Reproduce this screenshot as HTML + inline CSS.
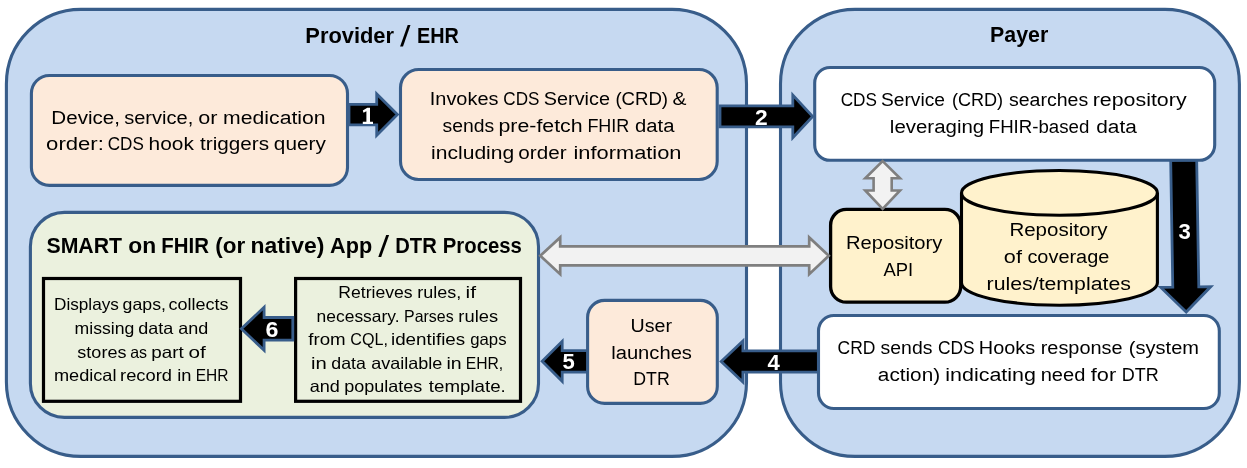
<!DOCTYPE html>
<html><head><meta charset="utf-8"><title>CRD / DTR flow</title>
<style>
html,body{margin:0;padding:0;background:#fff;}
body{width:1247px;height:468px;overflow:hidden;}
svg{display:block;will-change:transform;font-family:"Liberation Sans",sans-serif;}
</style></head><body>
<svg width="1247" height="468" viewBox="0 0 1247 468">
<rect x="6.4" y="9.4" width="740.1" height="447.0" rx="74.5" ry="74.5" fill="#C6D9F1" stroke="#385D8A" stroke-width="3.1"/>
<rect x="780.5" y="9.4" width="458.9" height="447.0" rx="74.5" ry="74.5" fill="#C6D9F1" stroke="#385D8A" stroke-width="3.1"/>
<polygon points="720,105.9 792.8,105.9 792.8,95.10000000000001 812.6,116.4 792.8,137.70000000000002 792.8,126.9 720,126.9" fill="#000" stroke="#385D8A" stroke-width="2.8" stroke-linejoin="miter" />
<polygon points="819.5,350.8 742.9,350.8 742.9,341.0 721.2,361.5 742.9,382.0 742.9,372.2 819.5,372.2" fill="#000" stroke="#385D8A" stroke-width="2.8" stroke-linejoin="miter" />
<g transform="rotate(-0.95 1186.2 312)">
<polygon points="1173.2,160 1199.2,160 1199.2,287 1211.2,287 1186.2,312 1161.2,287 1173.2,287" fill="#000" stroke="#385D8A" stroke-width="2.8" stroke-linejoin="miter" />
</g>
<rect x="31.4" y="75.5" width="316.1" height="109.9" rx="18" ry="18" fill="#FDEADA" stroke="#385D8A" stroke-width="3.1"/>
<rect x="400.5" y="69.5" width="316.7" height="110.0" rx="18.2" ry="18.2" fill="#FDEADA" stroke="#385D8A" stroke-width="3.1"/>
<polygon points="349,104.35 376.7,104.35 376.7,93.89999999999999 397.4,114.6 376.7,135.29999999999998 376.7,124.85 349,124.85" fill="#000" stroke="#385D8A" stroke-width="2.8" stroke-linejoin="miter" />
<rect x="814.7" y="67.5" width="400.0" height="92.8" rx="15.4" ry="15.4" fill="#fff" stroke="#385D8A" stroke-width="3.1"/>
<rect x="818.5" y="315.5" width="400.8" height="93.0" rx="15.4" ry="15.4" fill="#fff" stroke="#385D8A" stroke-width="3.1"/>
<rect x="830.6" y="209.4" width="130.1" height="92.8" rx="15.8" ry="15.8" fill="#FFF2CC" stroke="#000" stroke-width="3.3"/>
<path d="M961.5,192.9 A97.95000000000005,22.4 0 0 1 1157.4,192.9 L1157.4,282.8 A97.95000000000005,22.4 0 0 1 961.5,282.8 Z" fill="#FFF2CC" stroke="#000" stroke-width="3.1"/>
<path d="M961.5,192.9 A97.95000000000005,22.4 0 0 0 1157.4,192.9" fill="none" stroke="#000" stroke-width="3.1"/>
<polygon points="882.65,161.1 900.05,178.3 891.6999999999999,178.3 891.6999999999999,190.5 900.05,190.5 882.65,208.8 865.25,190.5 873.6,190.5 873.6,178.3 865.25,178.3" fill="#F2F2F2" stroke="#7F7F7F" stroke-width="2.6" stroke-linejoin="miter" />
<rect x="30.4" y="212.4" width="508.1" height="205.0" rx="34" ry="34" fill="#EBF1DE" stroke="#385D8A" stroke-width="3.1"/>
<rect x="43.5" y="278.5" width="197.0" height="122.8" rx="0" ry="0" fill="#EBF1DE" stroke="#000" stroke-width="3.2"/>
<rect x="295.6" y="278.5" width="224.9" height="122.8" rx="0" ry="0" fill="#EBF1DE" stroke="#000" stroke-width="3.2"/>
<polygon points="292.8,317.5 264.1,317.5 264.1,307.3 241.4,328.8 264.1,350.3 264.1,340.1 292.8,340.1" fill="#000" stroke="#385D8A" stroke-width="2.8" stroke-linejoin="miter" />
<polygon points="589,350.55 562.2,350.55 562.2,341.3 542.2,361.3 562.2,381.3 562.2,372.05 589,372.05" fill="#000" stroke="#385D8A" stroke-width="2.8" stroke-linejoin="miter" />
<rect x="587.6" y="300.4" width="129.7" height="103.0" rx="17" ry="17" fill="#FDEADA" stroke="#385D8A" stroke-width="3.1"/>
<polygon points="540.3,255.8 560.2,237.4 560.2,246.3 809.2,246.3 809.2,237.4 828.8,255.8 809.2,274.2 809.2,265.3 560.2,265.3 560.2,274.2" fill="#F2F2F2" stroke="#7F7F7F" stroke-width="2.7" stroke-linejoin="miter" />
<text x="305.31" y="42.5" font-size="22" textLength="88.76" lengthAdjust="spacingAndGlyphs" fill="#000" font-weight="bold">Provider</text>
<text x="416.95" y="42.5" font-size="22" textLength="41.86" lengthAdjust="spacingAndGlyphs" fill="#000" font-weight="bold">EHR</text>
<text x="990.04" y="41.7" font-size="22" textLength="58.20" lengthAdjust="spacingAndGlyphs" fill="#000" font-weight="bold">Payer</text>
<text x="46.48" y="253" font-size="22" textLength="75.54" lengthAdjust="spacingAndGlyphs" fill="#000" font-weight="bold">SMART</text>
<text x="128.22" y="253" font-size="22" textLength="27.92" lengthAdjust="spacingAndGlyphs" fill="#000" font-weight="bold">on</text>
<text x="161.31" y="253" font-size="22" textLength="47.63" lengthAdjust="spacingAndGlyphs" fill="#000" font-weight="bold">FHIR</text>
<text x="215.38" y="253" font-size="22" textLength="29.96" lengthAdjust="spacingAndGlyphs" fill="#000" font-weight="bold">(or</text>
<text x="250.44" y="253" font-size="22" textLength="73.88" lengthAdjust="spacingAndGlyphs" fill="#000" font-weight="bold">native)</text>
<text x="330.11" y="253" font-size="22" textLength="42.09" lengthAdjust="spacingAndGlyphs" fill="#000" font-weight="bold">App</text>
<text x="395.22" y="253" font-size="22" textLength="41.51" lengthAdjust="spacingAndGlyphs" fill="#000" font-weight="bold">DTR</text>
<text x="442.82" y="253" font-size="22" textLength="78.99" lengthAdjust="spacingAndGlyphs" fill="#000" font-weight="bold">Process</text>
<text x="51.39" y="124.3" font-size="19.2" textLength="68.57" lengthAdjust="spacingAndGlyphs" fill="#000">Device,</text>
<text x="124.18" y="124.3" font-size="19.2" textLength="69.17" lengthAdjust="spacingAndGlyphs" fill="#000">service,</text>
<text x="198.16" y="124.3" font-size="19.2" textLength="19.20" lengthAdjust="spacingAndGlyphs" fill="#000">or</text>
<text x="223.12" y="124.3" font-size="19.2" textLength="102.51" lengthAdjust="spacingAndGlyphs" fill="#000">medication</text>
<text x="46.14" y="149.9" font-size="19.2" textLength="57.74" lengthAdjust="spacingAndGlyphs" fill="#000">order:</text>
<text x="107.71" y="149.9" font-size="19.2" textLength="36.10" lengthAdjust="spacingAndGlyphs" fill="#000">CDS</text>
<text x="148.64" y="149.9" font-size="19.2" textLength="45.28" lengthAdjust="spacingAndGlyphs" fill="#000">hook</text>
<text x="200.13" y="149.9" font-size="19.2" textLength="68.96" lengthAdjust="spacingAndGlyphs" fill="#000">triggers</text>
<text x="273.89" y="149.9" font-size="19.2" textLength="51.88" lengthAdjust="spacingAndGlyphs" fill="#000">query</text>
<text x="429.78" y="104.75" font-size="19.2" textLength="68.68" lengthAdjust="spacingAndGlyphs" fill="#000">Invokes</text>
<text x="503.31" y="104.75" font-size="19.2" textLength="36.10" lengthAdjust="spacingAndGlyphs" fill="#000">CDS</text>
<text x="543.87" y="104.75" font-size="19.2" textLength="66.09" lengthAdjust="spacingAndGlyphs" fill="#000">Service</text>
<text x="615.39" y="104.75" font-size="19.2" textLength="52.69" lengthAdjust="spacingAndGlyphs" fill="#000">(CRD)</text>
<text x="672.58" y="104.75" font-size="19.2" textLength="13.96" lengthAdjust="spacingAndGlyphs" fill="#000">&amp;</text>
<text x="442.60" y="131.7" font-size="19.2" textLength="51.61" lengthAdjust="spacingAndGlyphs" fill="#000">sends</text>
<text x="498.51" y="131.7" font-size="19.2" textLength="84.16" lengthAdjust="spacingAndGlyphs" fill="#000">pre-fetch</text>
<text x="587.39" y="131.7" font-size="19.2" textLength="41.96" lengthAdjust="spacingAndGlyphs" fill="#000">FHIR</text>
<text x="635.11" y="131.7" font-size="19.2" textLength="39.41" lengthAdjust="spacingAndGlyphs" fill="#000">data</text>
<text x="431.13" y="158.7" font-size="19.2" textLength="83.04" lengthAdjust="spacingAndGlyphs" fill="#000">including</text>
<text x="518.39" y="158.7" font-size="19.2" textLength="48.23" lengthAdjust="spacingAndGlyphs" fill="#000">order</text>
<text x="573.48" y="158.7" font-size="19.2" textLength="108.06" lengthAdjust="spacingAndGlyphs" fill="#000">information</text>
<text x="840.71" y="106.3" font-size="19.2" textLength="36.20" lengthAdjust="spacingAndGlyphs" fill="#000">CDS</text>
<text x="880.90" y="106.3" font-size="19.2" textLength="64.04" lengthAdjust="spacingAndGlyphs" fill="#000">Service</text>
<text x="951.92" y="106.3" font-size="19.2" textLength="51.22" lengthAdjust="spacingAndGlyphs" fill="#000">(CRD)</text>
<text x="1008.99" y="106.3" font-size="19.2" textLength="79.23" lengthAdjust="spacingAndGlyphs" fill="#000">searches</text>
<text x="1092.71" y="106.3" font-size="19.2" textLength="93.87" lengthAdjust="spacingAndGlyphs" fill="#000">repository</text>
<text x="889.87" y="133.4" font-size="19.2" textLength="94.31" lengthAdjust="spacingAndGlyphs" fill="#000">leveraging</text>
<text x="988.74" y="133.4" font-size="19.2" textLength="100.61" lengthAdjust="spacingAndGlyphs" fill="#000">FHIR-based</text>
<text x="1096.29" y="133.4" font-size="19.2" textLength="40.53" lengthAdjust="spacingAndGlyphs" fill="#000">data</text>
<text x="837.59" y="354.4" font-size="19.2" textLength="37.89" lengthAdjust="spacingAndGlyphs" fill="#000">CRD</text>
<text x="880.59" y="354.4" font-size="19.2" textLength="51.82" lengthAdjust="spacingAndGlyphs" fill="#000">sends</text>
<text x="937.99" y="354.4" font-size="19.2" textLength="36.73" lengthAdjust="spacingAndGlyphs" fill="#000">CDS</text>
<text x="978.85" y="354.4" font-size="19.2" textLength="56.32" lengthAdjust="spacingAndGlyphs" fill="#000">Hooks</text>
<text x="1040.70" y="354.4" font-size="19.2" textLength="81.97" lengthAdjust="spacingAndGlyphs" fill="#000">response</text>
<text x="1128.89" y="354.4" font-size="19.2" textLength="70.11" lengthAdjust="spacingAndGlyphs" fill="#000">(system</text>
<text x="877.89" y="381.4" font-size="19.2" textLength="62.19" lengthAdjust="spacingAndGlyphs" fill="#000">action)</text>
<text x="945.30" y="381.4" font-size="19.2" textLength="90.68" lengthAdjust="spacingAndGlyphs" fill="#000">indicating</text>
<text x="1040.69" y="381.4" font-size="19.2" textLength="44.65" lengthAdjust="spacingAndGlyphs" fill="#000">need</text>
<text x="1090.82" y="381.4" font-size="19.2" textLength="25.34" lengthAdjust="spacingAndGlyphs" fill="#000">for</text>
<text x="1121.79" y="381.4" font-size="19.2" textLength="36.99" lengthAdjust="spacingAndGlyphs" fill="#000">DTR</text>
<text x="630.46" y="331.7" font-size="19.2" textLength="41.51" lengthAdjust="spacingAndGlyphs" fill="#000">User</text>
<text x="611.19" y="358.6" font-size="19.2" textLength="80.77" lengthAdjust="spacingAndGlyphs" fill="#000">launches</text>
<text x="633.31" y="385.3" font-size="19.2" textLength="36.45" lengthAdjust="spacingAndGlyphs" fill="#000">DTR</text>
<text x="845.92" y="248.6" font-size="19.2" textLength="96.51" lengthAdjust="spacingAndGlyphs" fill="#000">Repository</text>
<text x="883.40" y="275.6" font-size="19.2" textLength="29.72" lengthAdjust="spacingAndGlyphs" fill="#000">API</text>
<text x="1009.40" y="236.0" font-size="19.2" textLength="98.04" lengthAdjust="spacingAndGlyphs" fill="#000">Repository</text>
<text x="1003.85" y="262.75" font-size="19.2" textLength="18.06" lengthAdjust="spacingAndGlyphs" fill="#000">of</text>
<text x="1027.42" y="262.75" font-size="19.2" textLength="81.95" lengthAdjust="spacingAndGlyphs" fill="#000">coverage</text>
<text x="986.61" y="289.85" font-size="19.2" textLength="144.26" lengthAdjust="spacingAndGlyphs" fill="#000">rules/templates</text>
<text x="54.00" y="309.5" font-size="16.5" textLength="64.83" lengthAdjust="spacingAndGlyphs" fill="#000">Displays</text>
<text x="122.59" y="309.5" font-size="16.5" textLength="43.35" lengthAdjust="spacingAndGlyphs" fill="#000">gaps,</text>
<text x="168.58" y="309.5" font-size="16.5" textLength="60.00" lengthAdjust="spacingAndGlyphs" fill="#000">collects</text>
<text x="74.53" y="333.8" font-size="16.5" textLength="59.84" lengthAdjust="spacingAndGlyphs" fill="#000">missing</text>
<text x="138.18" y="333.8" font-size="16.5" textLength="35.05" lengthAdjust="spacingAndGlyphs" fill="#000">data</text>
<text x="178.28" y="333.8" font-size="16.5" textLength="30.04" lengthAdjust="spacingAndGlyphs" fill="#000">and</text>
<text x="77.35" y="357.8" font-size="16.5" textLength="49.10" lengthAdjust="spacingAndGlyphs" fill="#000">stores</text>
<text x="130.17" y="357.8" font-size="16.5" textLength="16.89" lengthAdjust="spacingAndGlyphs" fill="#000">as</text>
<text x="151.26" y="357.8" font-size="16.5" textLength="32.46" lengthAdjust="spacingAndGlyphs" fill="#000">part</text>
<text x="188.56" y="357.8" font-size="16.5" textLength="17.26" lengthAdjust="spacingAndGlyphs" fill="#000">of</text>
<text x="53.90" y="380.7" font-size="16.5" textLength="62.62" lengthAdjust="spacingAndGlyphs" fill="#000">medical</text>
<text x="120.09" y="380.7" font-size="16.5" textLength="51.96" lengthAdjust="spacingAndGlyphs" fill="#000">record</text>
<text x="177.19" y="380.7" font-size="16.5" textLength="14.22" lengthAdjust="spacingAndGlyphs" fill="#000">in</text>
<text x="195.72" y="380.7" font-size="16.5" textLength="32.77" lengthAdjust="spacingAndGlyphs" fill="#000">EHR</text>
<text x="338.27" y="297.5" font-size="16.5" textLength="74.38" lengthAdjust="spacingAndGlyphs" fill="#000">Retrieves</text>
<text x="417.31" y="297.5" font-size="16.5" textLength="43.94" lengthAdjust="spacingAndGlyphs" fill="#000">rules,</text>
<text x="465.63" y="297.5" font-size="16.5" textLength="10.47" lengthAdjust="spacingAndGlyphs" fill="#000">if</text>
<text x="316.64" y="321.5" font-size="16.5" textLength="82.90" lengthAdjust="spacingAndGlyphs" fill="#000">necessary.</text>
<text x="404.10" y="321.5" font-size="16.5" textLength="49.49" lengthAdjust="spacingAndGlyphs" fill="#000">Parses</text>
<text x="458.39" y="321.5" font-size="16.5" textLength="39.68" lengthAdjust="spacingAndGlyphs" fill="#000">rules</text>
<text x="308.22" y="345.4" font-size="16.5" textLength="37.42" lengthAdjust="spacingAndGlyphs" fill="#000">from</text>
<text x="350.27" y="345.4" font-size="16.5" textLength="37.61" lengthAdjust="spacingAndGlyphs" fill="#000">CQL,</text>
<text x="390.96" y="345.4" font-size="16.5" textLength="74.25" lengthAdjust="spacingAndGlyphs" fill="#000">identifies</text>
<text x="470.24" y="345.4" font-size="16.5" textLength="36.30" lengthAdjust="spacingAndGlyphs" fill="#000">gaps</text>
<text x="311.07" y="368.7" font-size="16.5" textLength="15.77" lengthAdjust="spacingAndGlyphs" fill="#000">in</text>
<text x="331.29" y="368.7" font-size="16.5" textLength="34.64" lengthAdjust="spacingAndGlyphs" fill="#000">data</text>
<text x="371.28" y="368.7" font-size="16.5" textLength="71.09" lengthAdjust="spacingAndGlyphs" fill="#000">available</text>
<text x="446.52" y="368.7" font-size="16.5" textLength="15.17" lengthAdjust="spacingAndGlyphs" fill="#000">in</text>
<text x="465.71" y="368.7" font-size="16.5" textLength="37.44" lengthAdjust="spacingAndGlyphs" fill="#000">EHR,</text>
<text x="309.68" y="392.1" font-size="16.5" textLength="30.15" lengthAdjust="spacingAndGlyphs" fill="#000">and</text>
<text x="344.21" y="392.1" font-size="16.5" textLength="78.11" lengthAdjust="spacingAndGlyphs" fill="#000">populates</text>
<text x="428.82" y="392.1" font-size="16.5" textLength="76.94" lengthAdjust="spacingAndGlyphs" fill="#000">template.</text>
<text x="755.13" y="124.6" font-size="22.3" textLength="12.69" lengthAdjust="spacingAndGlyphs" fill="#fff" font-weight="bold">2</text>
<text x="1178.50" y="239.2" font-size="22.3" textLength="12.29" lengthAdjust="spacingAndGlyphs" fill="#fff" font-weight="bold">3</text>
<text x="767.55" y="369.6" font-size="22.3" textLength="12.30" lengthAdjust="spacingAndGlyphs" fill="#fff" font-weight="bold">4</text>
<text x="562.56" y="369.3" font-size="22.3" textLength="12.29" lengthAdjust="spacingAndGlyphs" fill="#fff" font-weight="bold">5</text>
<text x="265.62" y="336.7" font-size="22.3" textLength="12.93" lengthAdjust="spacingAndGlyphs" fill="#fff" font-weight="bold">6</text>
<polygon points="386.2,235.1 389.1,235.1 381.2,256.9 378.3,256.9" fill="#000"/><polygon points="407.7,25.1 410.5,25.1 403,46.6 400.1,46.6" fill="#000"/>
<path d="M367.3,107.8 L370,107.8 L370,121.7 L373,121.7 L373,123.9 L362.8,123.9 L362.8,121.7 L366.4,121.7 L366.4,111.2 L363.5,112.7 L362.8,110.5 Z" fill="#fff"/>
</svg>
</body></html>
